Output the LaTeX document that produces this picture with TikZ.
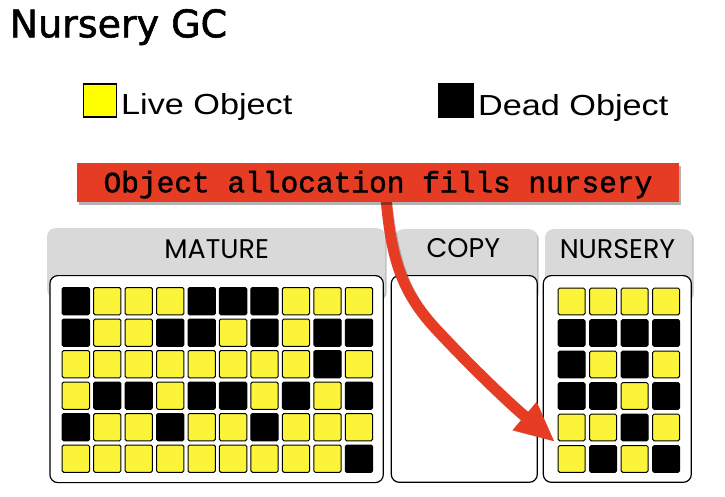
\documentclass[tikz,border=0pt]{standalone}
\usepackage{fontspec}
\setmainfont{Liberation Sans}
\newfontfamily\titlefont[FakeBold=1.5]{DejaVu Sans}
\newfontfamily\legendfont[FakeStretch=1.18]{Liberation Sans}
\newfontfamily\tabfont{Poppins}
\newfontfamily\bannerfont[FakeBold=1.5]{Liberation Mono}
\usetikzlibrary{arrows.meta,shadows}
\definecolor{Y}{RGB}{252,244,56}
\definecolor{K}{RGB}{0,0,0}
\definecolor{legendyellow}{RGB}{255,255,0}
\definecolor{tabgray}{RGB}{217,217,217}
\definecolor{gcred}{RGB}{230,60,35}
\begin{document}
\begin{tikzpicture}[x=1pt,y=-1pt,
  softshadow/.style={drop shadow={shadow xshift=1.5pt,shadow yshift=-2pt,opacity=0.25,fill=black}},
  tabbox/.style={fill=tabgray,rounded corners=8pt,inner sep=0pt,anchor=north west,softshadow},
  panelbox/.style={draw=black,line width=1.2pt,fill=white,rounded corners=8pt,inner sep=0pt,anchor=north west},
  tablabel/.style={anchor=base,inner sep=0pt,font=\tabfont\fontsize{27}{27}\selectfont},
  cell/.style={draw=black,line width=1pt,rounded corners=1.5pt,inner sep=0pt,anchor=north west,minimum size=27.3pt},
  legendbox/.style={draw=black,line width=1.5pt,inner sep=0pt,anchor=north west,minimum size=33pt},
  legendtext/.style={anchor=base west,inner sep=0pt,font=\legendfont\fontsize{29}{29}\selectfont},
  allocarrow/.style={line width=11pt,-{Triangle[length=40pt,width=34pt]}},
  banner/.style={fill=gcred,inner sep=0pt,minimum width=602.6pt,minimum height=38.4pt,text height=19.6pt,text depth=0pt,
    font=\bannerfont\fontsize{29.5}{29.5}\selectfont,drop shadow={shadow xshift=2pt,shadow yshift=-3pt,opacity=0.3,fill=black}}
]
\useasboundingbox[fill=white] (0,0) rectangle (725,497);

% title and legend
\node[anchor=base west,inner sep=0pt,font=\titlefont\fontsize{38}{38}\selectfont] (title) at (9.5,37.3) {Nursery GC};
\node[legendbox,fill=legendyellow] (livekey) at (82.7,83.3) {};
\node[legendtext] (livetext) at (121,115) {Live Object};
\node[legendbox,fill=black,minimum size=34pt] (deadkey) at (438.3,82.7) {};
\node[legendtext] (deadtext) at (478,116) {Dead Object};

% tabs
\node[tabbox,minimum width=338pt,minimum height=70pt] (maturetab) at (47,228) {};
\node[tabbox,minimum width=142pt,minimum height=70pt] (copytab) at (395,229) {};
\node[tabbox,minimum width=147pt,minimum height=70pt] (nurserytab) at (545,229) {};
\node[tablabel] (maturelabel) at (216.7,258.3) {MATURE};
\node[tablabel] (copylabel) at (463.3,257.5) {COPY};
\node[tablabel] (nurserylabel) at (617.5,258) {NURSERY};

% panels
\node[panelbox,minimum width=333.4pt,minimum height=207pt] (maturebox) at (49.3,275) {};
\node[panelbox,minimum width=146pt,minimum height=206.7pt] (copybox) at (390.7,275) {};
\node[panelbox,minimum width=148pt,minimum height=206.7pt] (nurserybox) at (542.7,275) {};

% mature cells
\foreach \row [count=\r from 0] in {
  {K,Y,Y,Y,K,K,K,Y,Y,Y},
  {K,Y,Y,K,K,Y,K,Y,K,K},
  {Y,Y,Y,Y,Y,Y,Y,Y,K,Y},
  {Y,K,K,Y,K,K,Y,K,Y,K},
  {K,Y,Y,K,Y,Y,K,Y,Y,Y},
  {Y,Y,Y,Y,Y,Y,Y,Y,Y,K}} {
  \foreach \v [count=\c from 0] in \row {
    \node[cell,fill=\v] (m\r-\c) at ({61.7+\c*31.45},{287+\r*31.5}) {};
  }
}

% nursery cells
\foreach \row [count=\r from 0] in {
  {Y,Y,Y,Y},
  {K,K,K,K},
  {K,Y,K,Y},
  {K,K,Y,K},
  {Y,Y,K,Y},
  {Y,K,Y,K}} {
  \foreach \v [count=\c from 0] in \row {
    \node[cell,fill=\v,minimum size=26.8pt] (n\r-\c) at ({557.7+\c*31.5},{287.5+\r*31.5}) {};
  }
}

% banner position (drawn last) and arrow
\coordinate (arrowstart) at (386,198);
\coordinate (arrowbend) at (435,328);
\coordinate (arrowtip) at ([shift={(-2.7,-3)}]n5-0.north west);
\begin{scope}[shift={(2.5,3)}]
\draw[allocarrow,black,opacity=0.2] (arrowstart) .. controls (391,255) and (400,290) .. (arrowbend)
  .. controls (460,355) and (500,395) .. (arrowtip);
\end{scope}
\draw[allocarrow,gcred] (arrowstart) .. controls (391,255) and (400,290) .. (arrowbend)
  .. controls (460,355) and (500,395) .. (arrowtip);

% banner
\node[banner] (alloc) at (378,182.5) {Object allocation fills nursery};
\end{tikzpicture}
\end{document}
